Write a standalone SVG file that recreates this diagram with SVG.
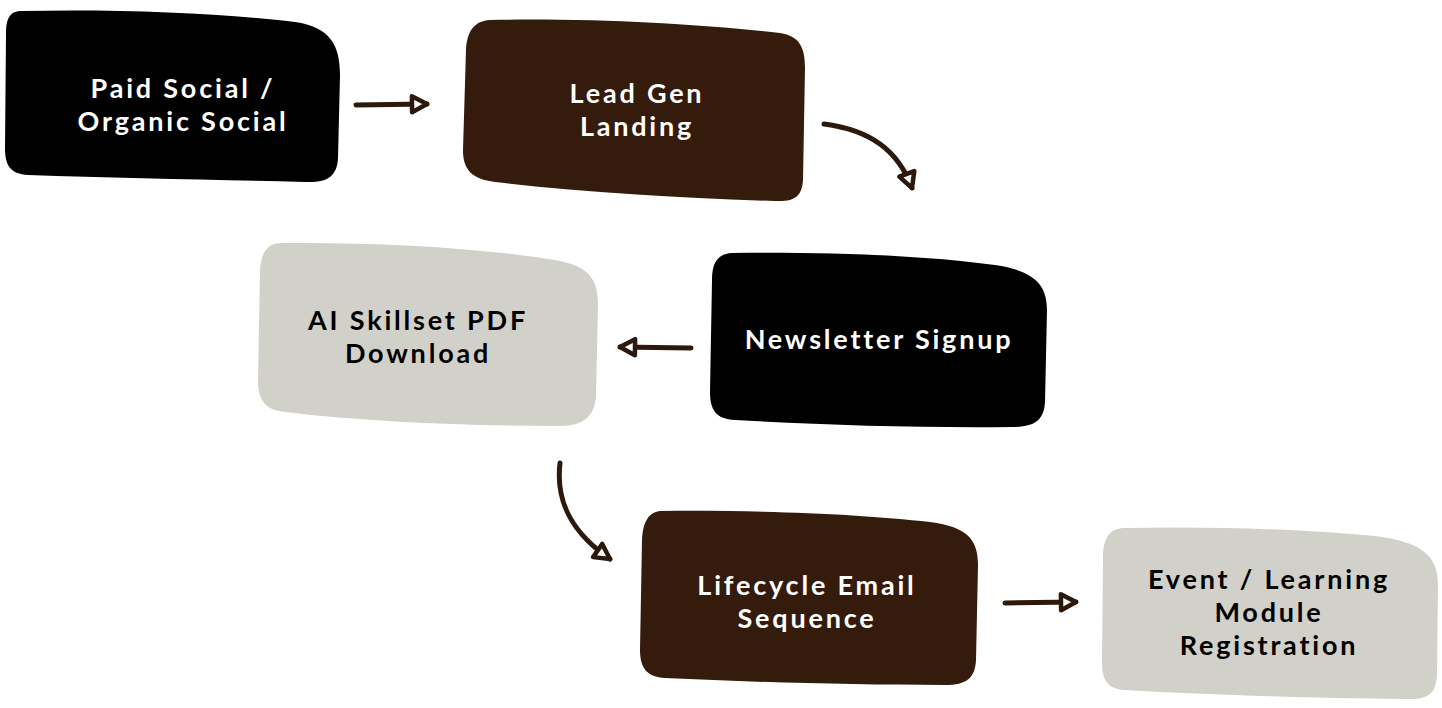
<svg xmlns="http://www.w3.org/2000/svg" width="1442" height="708" viewBox="0 0 1442 708">
<style>
.lbl{font-family:Lato,"Open Sans","Liberation Sans",sans-serif;font-weight:700;font-size:27px;letter-spacing:2.8px;text-anchor:middle}
.w{fill:#ffffff}
.k{fill:#000000}
.dark{fill:#000000}
.brown{fill:#341b0b}
.gray{fill:#d1d1c9}
.conn{fill:none;stroke:#2d190b;stroke-width:5;stroke-linecap:round}
</style>
<defs>
<marker id="ah" viewBox="-4 -4 26 26" refX="16" refY="9" markerWidth="26" markerHeight="26" markerUnits="userSpaceOnUse" orient="auto">
<path d="M1,1 L16,9 L1,17 Z" fill="#ffffff" stroke="#2d190b" stroke-width="4.5" stroke-linejoin="round"/>
</marker>
</defs>
<rect width="1442" height="708" fill="#ffffff"/>
<g id="node-paid-social">
<path class="dark" d="M22 11 C120 9 220 13 295 22 C330 27 340 45 340 75 L338 158 C337 176 328 183 305 182 C220 180 120 178 28 175 C10 174 5 165 5 148 L6 34 C6 18 10 11 22 11 Z"/>
<text class="lbl w" x="183" y="98">Paid Social /</text>
<text class="lbl w" x="183" y="131">Organic Social</text>
</g>
<g id="node-lead-gen">
<path class="brown" d="M490 20 C590 18 700 24 780 33 C800 36 805 48 805 68 L803 180 C802 196 795 202 775 201 C680 198 580 192 495 182 C472 179 463 170 463 150 L466 50 C467 30 475 21 490 20 Z"/>
<text class="lbl w" x="637" y="103">Lead Gen</text>
<text class="lbl w" x="637" y="136">Landing</text>
</g>
<g id="node-newsletter">
<path class="dark" d="M732 253 C830 252 920 255 995 265 C1035 271 1047 285 1047 310 L1045 402 C1044 420 1035 427 1012 427 C920 428 820 425 735 420 C716 419 710 410 710 392 L712 280 C712 262 718 254 732 253 Z"/>
<text class="lbl w" x="879" y="349">Newsletter Signup</text>
</g>
<g id="node-ai-skillset">
<path class="gray" d="M282 243 C380 242 480 248 555 260 C590 266 598 280 598 305 L596 395 C595 415 585 426 560 426 C470 426 370 422 285 412 C265 410 258 400 258 380 L260 270 C261 252 268 243 282 243 Z"/>
<text class="lbl k" x="418" y="330">AI Skillset PDF</text>
<text class="lbl k" x="418" y="363">Download</text>
</g>
<g id="node-lifecycle">
<path class="brown" d="M662 511 C760 510 860 514 930 522 C968 527 978 540 978 565 L976 660 C975 678 967 685 945 685 C850 685 750 682 665 678 C647 677 640 668 640 650 L642 540 C643 520 650 511 662 511 Z"/>
<text class="lbl w" x="807" y="595">Lifecycle Email</text>
<text class="lbl w" x="807" y="628">Sequence</text>
</g>
<g id="node-event">
<path class="gray" d="M1125 528 C1220 526 1310 530 1375 536 C1425 542 1438 558 1438 585 L1437 675 C1436 694 1428 700 1405 699 C1310 698 1210 695 1125 690 C1107 689 1102 680 1102 662 L1103 555 C1104 537 1110 528 1125 528 Z"/>
<text class="lbl k" x="1269" y="589">Event / Learning</text>
<text class="lbl k" x="1269" y="622">Module</text>
<text class="lbl k" x="1269" y="655">Registration</text>
</g>
<g id="connectors">
<path class="conn" marker-end="url(#ah)" d="M356 105 L427 104"/>
<path class="conn" marker-end="url(#ah)" d="M824 124 C870 130 898 150 912 188"/>
<path class="conn" marker-end="url(#ah)" d="M691 348 L620 347"/>
<path class="conn" marker-end="url(#ah)" d="M560 463 C555 505 575 535 610 559"/>
<path class="conn" marker-end="url(#ah)" d="M1005 603 L1076 602"/>
</g>
</svg>
